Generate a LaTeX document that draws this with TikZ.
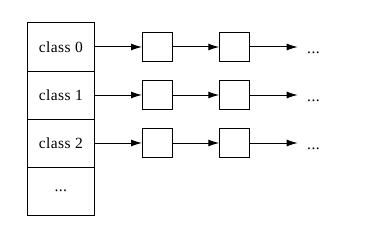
\documentclass[tikz,border=0pt]{standalone}
\usepackage{fontspec}
\setmainfont[LetterSpace=3]{Liberation Serif}
\usetikzlibrary{arrows.meta}
\begin{document}
\begin{tikzpicture}[x=1pt,y=-1pt,
  line width=1pt,
  cell/.style={draw,minimum width=67pt,minimum height=48pt,inner sep=0pt,outer sep=0pt,font=\fontsize{15.5}{17}\selectfont},
  item/.style={draw,minimum width=30pt,minimum height=29pt,inner sep=0pt,outer sep=0pt},
  lnk/.style={-{Latex[length=11pt,width=7pt]}},
  more/.style={anchor=base,inner sep=0pt,font=\fontsize{15.5}{17}\selectfont}]
\useasboundingbox (0,0) rectangle (369,230);
\node[cell] (c0) at (60.8,47) {class 0};
\node[cell,anchor=north] (c1) at (c0.south) {class 1};
\node[cell,anchor=north] (c2) at (c1.south) {class 2};
\node[cell,anchor=north] (c3) at (c2.south) {...};
\foreach \r/\y in {0/47,1/95,2/143}{
  \node[item] (a\r) at (157,\y) {};
  \node[item] (b\r) at (234.3,\y) {};
  \coordinate (e\r) at (297.7,\y);
  \node[more] (d\r) at (313.5,\y+6.5) {...};
  \draw[lnk] (c\r.east) -- (a\r.west);
  \draw[lnk] (a\r.east) -- (b\r.west);
  \draw[lnk] (b\r.east) -- (e\r);
}
\end{tikzpicture}
\end{document}
